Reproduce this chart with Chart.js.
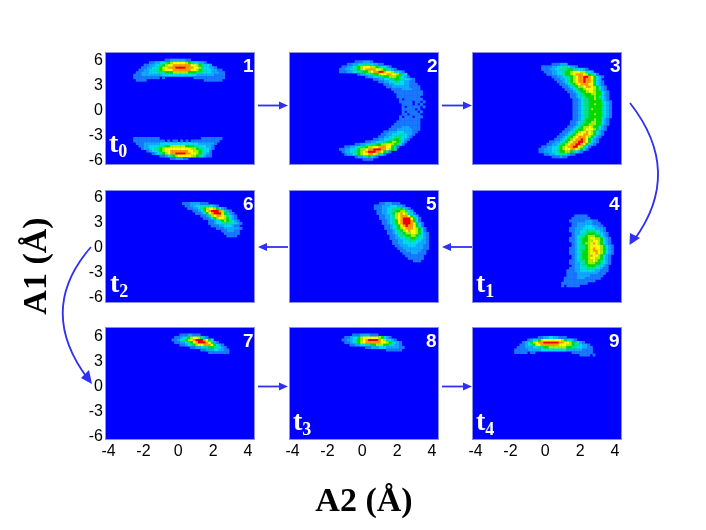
<!DOCTYPE html>
<html>
<head>
<meta charset="utf-8">
<script src="https://cdn.jsdelivr.net/npm/chart.js@4"></script>
<style>
  html, body { margin: 0; padding: 0; background: #fff; }
  #page { position: relative; width: 706px; height: 530px; overflow: hidden; }
  canvas.panel { position: absolute; filter: blur(0.7px); }
  svg { position: absolute; left: 0; top: 0; }
  .num { position: absolute; color: #fff; font: bold 19px "Liberation Sans", sans-serif; line-height: 19px; }
  .time { position: absolute; color: #fff; font: bold 28px "Liberation Serif", serif; line-height: 28px; }
  .time sub { font-size: 18px; vertical-align: -5px; line-height: 0; }
  .axis { position: absolute; color: #000; font: bold 34px "Liberation Serif", serif; white-space: nowrap; }
</style>
</head>
<body>
<div id="page"></div>
<script>
// tick labels, shared by all panels
const a2Ticks = [-4, -2, 0, 2, 4];
const a1Ticks = [-6, -3, 0, 3, 6];

// density levels, 1 = faint ... 9 = peak, '.' = empty
// each row steps 0.15 in A2, rows step 0.3 down in A1
const panel1Top = [
  "............1122222211",
  "......1122334567777765433221",
  "....11223345677888888877654332",
  "...11223345778889999888776433221",
  "..11223344567778888888776544332211",
  ".1122233344455566666655544433322211",
  "11122222222333333333333322222221111",
  "1111111111.1...........111111111111",
  ".1111......................1111111"
];
const panel1Bottom = [
  "1111111111................11111111",
  "111111111111.1.11.1.1.11111111111",
  ".1112222223333333333333332222221",
  "..11223334445566666655544333221",
  "...1223344567777777777665443321",
  ".....1233456778888888776654331",
  ".......12345678899998877654321",
  "..........11234567777766543211",
  "..............1122211"
];
const panel2Rows = [
  ".......1112221",
  "....11223344432211",
  "..1122345677766543321",
  ".1122344567888877654321",
  ".1112233445567889987764321",
  "........1223345567788776543",
  "...........12233445566654321",
  "..............1122334455443321",
  "................11223344332211",
  "..................1122333322111",
  "...................1122222221111",
  ".....................11112222111",
  "......................11111111111",
  ".......................1111111111",
  ".......................111111111",
  "........................1.1111111",
  "........................11111.11.1",
  ".........................1111.1.1",
  ".........................1.11111.1",
  ".........................11111.1",
  ".........................1.1111.1",
  ".........................11.1111",
  "........................1.111.111",
  "........................11111111",
  ".......................111111111",
  "......................1111111111",
  ".....................11112221111",
  "....................111222222111",
  "..................1122233322211",
  ".................1122333443221",
  "................1122334443321",
  "..............11223344554321",
  "...........1122334455665431",
  ".......1122334455667765431",
  "...112233445667788877541",
  ".1122334566788999887654",
  "..1223445678999887541",
  "...1223456778876431",
  ".......122345321",
  "..........1111"
];
const panel3Rows = [
  ".....111222",
  ".11112233443221",
  ".111223344455443321",
  "..1112233455677766432",
  "...11223345567888765431",
  ".....11223445678899875321",
  "......112234567889887532",
  ".......112345678898875321",
  "........11234567888775321",
  ".........11234566788765321",
  "..........1123455677765321",
  "...........1123455677655321",
  "............112345556655321",
  "............112344555654321",
  ".............11234455655321",
  ".............112344555554321",
  ".............112344556554321",
  ".............112344555554321",
  ".............112344565554321",
  ".............112344555554321",
  ".............112344556554321",
  ".............112344555554321",
  ".............11234555655321",
  "............112344556655321",
  "............112345566655321",
  "...........112345667655321",
  "..........1123455677765321",
  ".........1123456778765321",
  "........11234567788765321",
  ".......11234567888765321",
  "......11234567889875321",
  "....1122345678899875321",
  "...1122345678899875321",
  ".1122334567889976431",
  "1122233456778876531",
  "11222334556654321",
  "..112233443211",
  ".....111211"
];
const panel4Rows = [
  ".....11111",
  "....1111111",
  "...11111122211",
  "....11222222111",
  "....112223332211",
  "...11222333332221",
  "...11223344443321",
  "....12234455544321",
  "....12344566655321",
  "...1123455677665321",
  "...1123455667765321",
  "....123456678765321",
  "....1234456777765321",
  "...11234456787765321",
  "...11234556788765321",
  "...11234556778765321",
  "....123455687765321",
  "....123455677665321",
  "...1123445667654321",
  "...1122345666554321",
  "....12234455544321",
  "...112233444433211",
  "..1112233333322111",
  "..111122222222111",
  "..11112222211111",
  ".11111222111111",
  ".111111111111",
  "1111111111",
  "1.11111"
];
const panel5Rows = [
  "...11222111",
  ".111222333221",
  ".11122334445321",
  "..11223345566432",
  "..112234567876431",
  "...112234678887532",
  "...1122346789997531",
  "....112345789998531",
  "....1123457899987531",
  ".....112345789887531",
  ".....1123456788876531",
  "......112345678776531",
  "......1123445667765321",
  ".......112344556654321",
  ".......112233445543321",
  "........11223344433221",
  "........11223333332221",
  ".........1122233322211",
  "..........112222222211",
  "...........1122222211",
  "............111222111",
  ".............1111111",
  "..............111111",
  "................111"
];
const panel6Rows = [
  "1112222111",
  ".1122334444321",
  "..112234567765321",
  "....112357899986421",
  ".....112357899975421",
  ".......11246788764321",
  "........1123567765321",
  "..........112345654321",
  "..........1123344444321",
  "...........11122333211",
  ".............1112222221",
  "...............1122211",
  "................111111",
  ".................1111"
];
const panel7Rows = [
  "...11122111",
  ".1123456776421",
  "1123456789998753",
  ".11223457899987421",
  "...11234567788875321",
  ".......11223445544321",
  "...........11222332211",
  "..............11111111"
];
const panel8Rows = [
  "....1112222111",
  ".112335677777765321",
  "112234567899998764321",
  ".1123457788888877654321",
  "...11223344556665543221",
  ".........112223332222211",
  ".................111111"
];
const panel9Rows = [
  ".........11223322111",
  ".....1234567777777654321",
  "...123567889999998877654321",
  "..112345778888888777665443221",
  ".11122233445566666665544332211",
  "111112222233333333332222221111",
  "11111.11..............11111111",
  ".........................1111.1"
];

const levelColors = ['#1a78ff', '#10aaff', '#00dcf0', '#00e48c', '#00dc00', '#a8f000', '#ffff00', '#ff9c00', '#f00000'];

const a2Step = 0.15;
const a1Step = 0.3;
const a2Range = [-4.15, 4.35];
// the three rows sit a little differently around A1 = 0
const a1Ranges = [[-6.56, 6.76], [-6.75, 6.6], [-6.48, 6.84]];

// plot box of every panel on the page
const boxW = 148, boxH = 111;
const marginL = 34, marginT = 10, marginB = 26, marginR = 10;

const panels = [
  { num: '1', row: 0, left: 106, top: 53,  blocks: [[panel1Top, -2.5, 5.9], [panel1Bottom, -2.5, -3.5]], yTicks: true,  xTicks: false, t: '0', numX: 137, tX: 3, tY: 76 },
  { num: '2', row: 0, left: 290, top: 53,  blocks: [[panel2Rows, -1.4, 5.7]], yTicks: false, xTicks: false, numX: 137 },
  { num: '3', row: 0, left: 473, top: 53,  blocks: [[panel3Rows, -0.3, 5.4]], yTicks: false, xTicks: false, numX: 137 },
  { num: '6', row: 1, left: 106, top: 191, blocks: [[panel6Rows, 0.3, 5.1]],  yTicks: true,  xTicks: false, t: '2', numX: 137, tX: 4, tY: 78 },
  { num: '5', row: 1, left: 290, top: 191, blocks: [[panel5Rows, 0.6, 5.1]],  yTicks: false, xTicks: false, numX: 136 },
  { num: '4', row: 1, left: 473, top: 191, blocks: [[panel4Rows, 1.0, 3.6]],  yTicks: false, xTicks: false, t: '1', numX: 136, tX: 3, tY: 78 },
  { num: '7', row: 2, left: 106, top: 328, blocks: [[panel7Rows, -0.3, 6.0]], yTicks: true,  xTicks: true,  numX: 137 },
  { num: '8', row: 2, left: 290, top: 328, blocks: [[panel8Rows, -1.1, 6.0]], yTicks: false, xTicks: true,  t: '3', numX: 136, tX: 3, tY: 79 },
  { num: '9', row: 2, left: 473, top: 328, blocks: [[panel9Rows, -1.7, 5.7]], yTicks: false, xTicks: true,  t: '4', numX: 136, tX: 3, tY: 79 }
];

const page = document.getElementById('page');

// blue field and thin frame behind the density cells
const fieldPlugin = {
  id: 'field',
  beforeDatasetsDraw(chart) {
    const { ctx, chartArea: a } = chart;
    ctx.save();
    ctx.fillStyle = '#0000ff';
    ctx.fillRect(a.left, a.top, a.width, a.height);
    ctx.restore();
  },
  afterDatasetsDraw(chart) {
    const { ctx, chartArea: a } = chart;
    ctx.save();
    ctx.strokeStyle = '#8f8fe0';
    ctx.lineWidth = 1;
    ctx.strokeRect(a.left - 0.5, a.top - 0.5, a.width + 1, a.height + 1);
    ctx.restore();
  }
};

function buildDatasets(blocks) {
  const byLevel = levelColors.map(() => []);
  blocks.forEach(([rows, a2Start, a1Start]) => {
    rows.forEach((row, r) => {
      for (let c = 0; c < row.length; c++) {
        if (row[c] === '.') continue;
        byLevel[Number(row[c]) - 1].push({ x: a2Start + c * a2Step, y: a1Start - r * a1Step });
      }
    });
  });
  return byLevel.map((data, i) => ({
    data: data,
    backgroundColor: levelColors[i],
    pointStyle: 'rect',
    pointRadius: 2.1,
    pointBorderWidth: 0
  }));
}

panels.forEach(p => {
  const canvas = document.createElement('canvas');
  canvas.className = 'panel';
  canvas.width = boxW + marginL + marginR;
  canvas.height = boxH + marginT + marginB;
  canvas.style.left = (p.left - marginL) + 'px';
  canvas.style.top = (p.top - marginT) + 'px';
  page.appendChild(canvas);

  new Chart(canvas.getContext('2d'), {
    type: 'scatter',
    data: { datasets: buildDatasets(p.blocks) },
    options: {
      responsive: false,
      animation: false,
      events: [],
      layout: { padding: { top: marginT, right: marginR, left: 0, bottom: 0 } },
      plugins: { legend: { display: false }, tooltip: { enabled: false } },
      scales: {
        x: {
          type: 'linear',
          min: a2Range[0],
          max: a2Range[1],
          grid: { display: false, drawTicks: false },
          border: { display: false },
          ticks: { display: p.xTicks, color: '#000', padding: 3, maxRotation: 0, font: { family: 'Liberation Sans', size: 16 } },
          afterBuildTicks: s => { s.ticks = a2Ticks.map(v => ({ value: v })); },
          afterFit: s => { s.height = marginB; s.paddingLeft = 0; s.paddingRight = 0; }
        },
        y: {
          type: 'linear',
          min: a1Ranges[p.row][0],
          max: a1Ranges[p.row][1],
          grid: { display: false, drawTicks: false },
          border: { display: false },
          ticks: { display: p.yTicks, color: '#000', padding: 3, labelOffset: 1.5, font: { family: 'Liberation Sans', size: 16 } },
          afterBuildTicks: s => { s.ticks = a1Ticks.map(v => ({ value: v })); },
          afterFit: s => { s.width = marginL; s.paddingTop = 0; s.paddingBottom = 0; }
        }
      }
    },
    plugins: [fieldPlugin]
  });

  const num = document.createElement('div');
  num.className = 'num';
  num.textContent = p.num;
  num.style.left = (p.left + p.numX) + 'px';
  num.style.top = (p.top + 3) + 'px';
  page.appendChild(num);

  if (p.t) {
    const t = document.createElement('div');
    t.className = 'time';
    t.innerHTML = 't<sub>' + p.t + '</sub>';
    t.style.left = (p.left + p.tX) + 'px';
    t.style.top = (p.top + p.tY) + 'px';
    page.appendChild(t);
  }
});

// axis titles
const yTitle = document.createElement('div');
yTitle.className = 'axis';
yTitle.textContent = 'A1 (Å)';
yTitle.style.left = '35px';
yTitle.style.top = '266px';
yTitle.style.transform = 'translate(-50%, -50%) rotate(-90deg)';
page.appendChild(yTitle);

const xTitle = document.createElement('div');
xTitle.className = 'axis';
xTitle.textContent = 'A2 (Å)';
xTitle.style.left = '364px';
xTitle.style.top = '500px';
xTitle.style.transform = 'translate(-50%, -50%)';
page.appendChild(xTitle);

// time-order arrows between panels
const arrows = [
  'M258 105.5 L282 105.5', 'M442 105.5 L466 105.5',
  'M288 247 L264 247', 'M472 247 L448 247',
  'M258 386.5 L282 386.5', 'M442 386.5 L466 386.5',
  'M630 103 Q684 172 634 240',
  'M91 247 Q36 310 88 379'
];
const heads = [
  '279,101.5 288,105.5 279,109.5', '463,101.5 472,105.5 463,109.5',
  '267,243 258,247 267,251', '451,243 442,247 451,251',
  '279,382.5 288,386.5 279,390.5', '463,382.5 472,386.5 463,390.5',
  '629.5,245 630,233 640,238',
  '92,384 81,378 89,370'
];
let svg = '<svg width="706" height="530" xmlns="http://www.w3.org/2000/svg">';
arrows.forEach(d => { svg += '<path d="' + d + '" fill="none" stroke="#3030f0" stroke-width="1.8"/>'; });
heads.forEach(pts => { svg += '<polygon points="' + pts + '" fill="#3030f0"/>'; });
svg += '</svg>';
page.insertAdjacentHTML('beforeend', svg);
</script>
</body>
</html>
